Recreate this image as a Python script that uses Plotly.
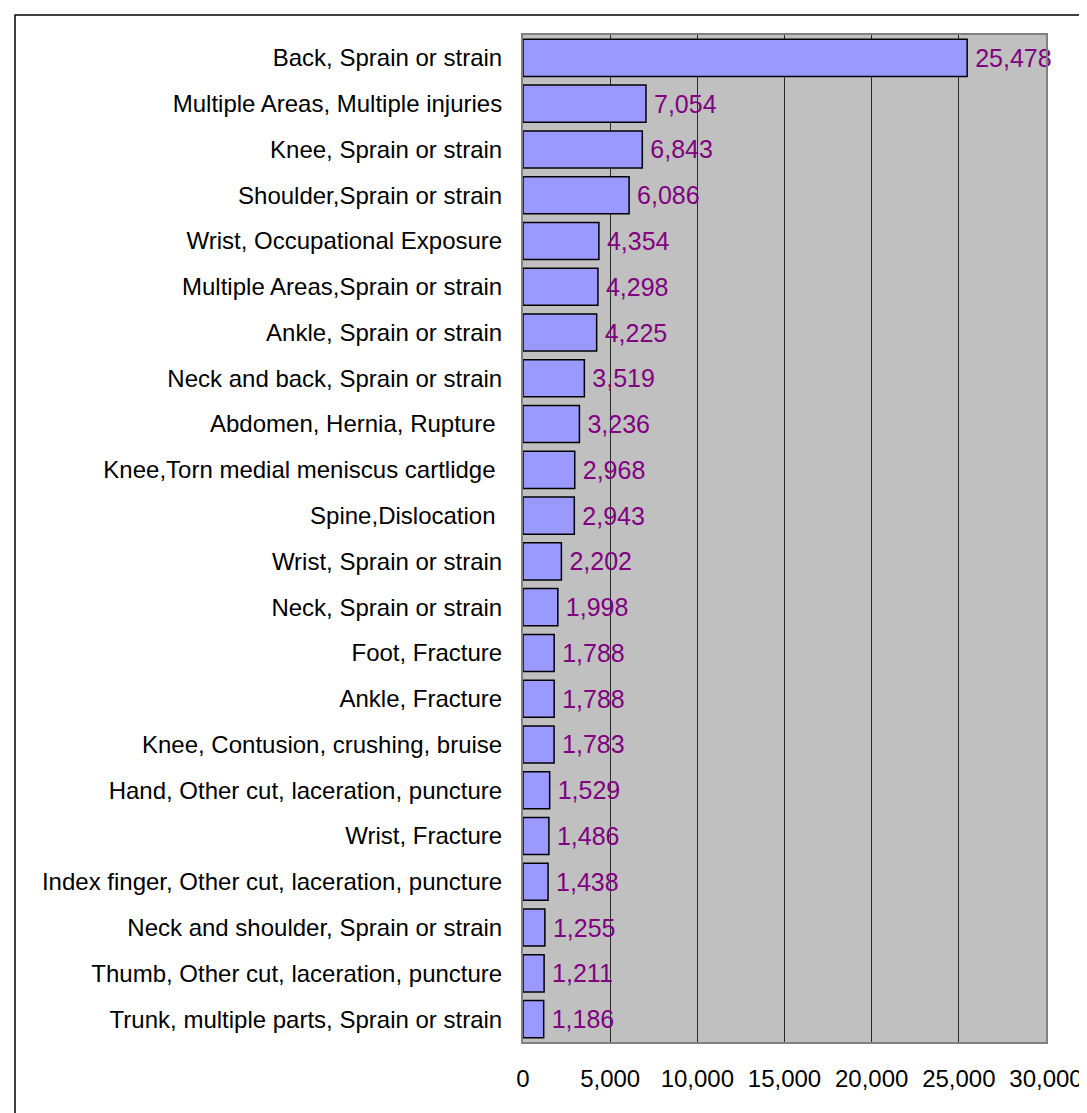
import plotly.graph_objects as go

categories = [
    "Back, Sprain or strain",
    "Multiple Areas, Multiple injuries",
    "Knee, Sprain or strain",
    "Shoulder,Sprain or strain",
    "Wrist, Occupational Exposure",
    "Multiple Areas,Sprain or strain",
    "Ankle, Sprain or strain",
    "Neck and back, Sprain or strain",
    "Abdomen, Hernia, Rupture ",
    "Knee,Torn medial meniscus cartlidge ",
    "Spine,Dislocation ",
    "Wrist, Sprain or strain",
    "Neck, Sprain or strain",
    "Foot, Fracture",
    "Ankle, Fracture",
    "Knee, Contusion, crushing, bruise",
    "Hand, Other cut, laceration, puncture",
    "Wrist, Fracture",
    "Index finger, Other cut, laceration, puncture",
    "Neck and shoulder, Sprain or strain",
    "Thumb, Other cut, laceration, puncture",
    "Trunk, multiple parts, Sprain or strain",
]
values = [25478, 7054, 6843, 6086, 4354, 4298, 4225, 3519, 3236, 2968, 2943,
          2202, 1998, 1788, 1788, 1783, 1529, 1486, 1438, 1255, 1211, 1186]
x_ticks = [0, 5000, 10000, 15000, 20000, 25000, 30000]
x_tick_labels = ["0", "5,000", "10,000", "15,000", "20,000", "25,000", "30,000"]

FONT = "Liberation Sans, Arial, sans-serif"

fig = go.Figure(go.Bar(
    x=values,
    y=categories,
    orientation="h",
    marker=dict(color="#9999FF", line=dict(color="black", width=1.5)),
    text=["\u2009" + f"{v:,}" for v in values],
    textposition="outside",
    textfont=dict(color="#800080", size=25, family=FONT),
    constraintext="none",
    cliponaxis=False,
    hoverinfo="x+y",
))

W, H = 1087, 1113
L, R, T, B = 515, 1087 - 1038, 27, 1113 - 1034
pw, ph = W - L - R, H - T - B

fig.update_layout(
    width=W, height=H,
    margin=dict(l=L, r=R, t=T, b=B, pad=0),
    paper_bgcolor="white",
    plot_bgcolor="#C0C0C0",
    bargap=0.19,
    showlegend=False,
    font=dict(family=FONT, size=24, color="black"),
    xaxis=dict(
        range=[0, 30000],
        tickvals=x_ticks,
        ticktext=x_tick_labels,
        showgrid=True,
        gridcolor="#2a2a2a",
        gridwidth=1,
        zeroline=False,
        showline=True,
        linecolor="#808080",
        linewidth=2,
        mirror=True,
        ticks="",
        ticklabelstandoff=14,
        tickfont=dict(size=24, color="black", family=FONT),
    ),
    yaxis=dict(
        autorange="reversed",
        showgrid=False,
        zeroline=False,
        showline=True,
        linecolor="#808080",
        linewidth=2,
        mirror=True,
        ticks="",
        ticklabelstandoff=14,
        tickfont=dict(size=24, color="black", family=FONT),
    ),
    shapes=[dict(
        type="rect", xref="paper", yref="paper",
        x0=(7 - L) / pw, x1=(1100 - L) / pw,
        y0=(1034 - 1125) / ph, y1=(1034 - 7) / ph,
        line=dict(color="black", width=1.5),
        fillcolor="rgba(0,0,0,0)",
        layer="below",
    )],
)

fig.write_html("out.html")
